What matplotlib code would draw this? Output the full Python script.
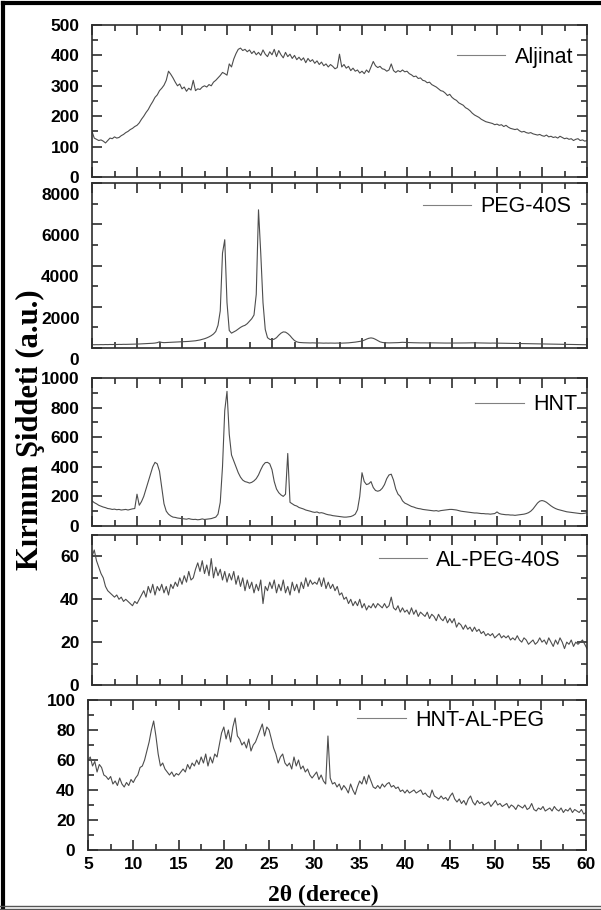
import numpy as np
import matplotlib
matplotlib.use("Agg")
import matplotlib.pyplot as plt
from matplotlib.ticker import MultipleLocator
from matplotlib.transforms import ScaledTranslation
from matplotlib.lines import Line2D

# 2theta grid (degrees), 0.25 step
two_theta = np.arange(5, 60.001, 0.25)

# intensities
aljinat = [150, 128, 124, 120, 122, 118, 112, 120, 128, 126, 132, 128, 130, 136, 140, 146, 150, 156, 160, 166,
           170, 178, 190, 200, 212, 222, 236, 248, 262, 270, 284, 292, 302, 318, 348, 338, 326, 312, 300, 306,
           290, 296, 282, 292, 286, 318, 284, 290, 288, 296, 300, 296, 304, 300, 312, 318, 326, 334, 344, 340,
           335, 372, 362, 388, 406, 420, 424, 416, 420, 412, 418, 406, 414, 402, 410, 400, 418, 404, 396, 412,
           402, 420, 396, 416, 402, 392, 410, 396, 404, 390, 400, 386, 394, 384, 392, 376, 390, 380, 386, 374,
           382, 370, 378, 366, 372, 362, 370, 364, 356, 360, 404, 362, 370, 358, 364, 350, 358, 348, 352, 342,
           348, 340, 352, 344, 362, 380, 366, 360, 364, 356, 354, 348, 352, 372, 350, 344, 350, 346, 352, 346,
           348, 340, 336, 330, 332, 324, 326, 318, 316, 310, 312, 304, 300, 296, 290, 284, 282, 276, 268, 272,
           262, 256, 252, 244, 240, 236, 228, 224, 218, 210, 204, 200, 196, 190, 186, 182, 180, 178, 176, 172,
           174, 170, 172, 166, 170, 164, 160, 158, 156, 158, 152, 148, 150, 146, 144, 146, 142, 140, 138, 140,
           136, 134, 138, 132, 134, 130, 132, 128, 134, 130, 126, 128, 124, 126, 120, 124, 126, 120, 122, 118,
           120]

peg40s = [160, 158, 162, 160, 165, 162, 168, 165, 170, 168, 172, 170, 175, 172, 178, 176, 180, 182, 185, 188,
          190, 195, 200, 205, 210, 215, 220, 230, 240, 260, 300, 270, 260, 265, 270, 275, 280, 285, 290, 300,
          300, 305, 310, 320, 330, 340, 350, 370, 390, 420, 450, 490, 540, 600, 680, 800, 1100, 1800, 4600, 5250,
          2200, 850, 720, 780, 840, 920, 1000, 1060, 1100, 1180, 1300, 1420, 1600, 2600, 6700, 4600, 2200, 900, 500, 420,
          400, 430, 500, 620, 720, 780, 770, 700, 600, 470, 360, 300, 270, 260, 255, 250, 250, 245, 250, 245,
          240, 245, 240, 235, 240, 236, 240, 238, 235, 240, 238, 236, 240, 245, 250, 260, 270, 285, 300, 320,
          340, 380, 430, 470, 490, 470, 420, 360, 300, 270, 255, 250, 248, 250, 252, 255, 260, 270, 275, 270,
          265, 262, 258, 255, 252, 250, 248, 250, 248, 245, 246, 250, 248, 246, 244, 245, 243, 240, 242, 240,
          240, 242, 240, 238, 240, 242, 245, 248, 250, 252, 250, 248, 245, 244, 242, 240, 238, 236, 240, 238,
          236, 234, 232, 230, 228, 226, 224, 222, 220, 218, 216, 214, 212, 210, 208, 206, 204, 202, 200, 198,
          196, 194, 192, 190, 188, 186, 184, 182, 180, 178, 176, 174, 172, 170, 168, 166, 165, 163, 162, 160,
          158]

hnt = [170, 158, 150, 140, 134, 128, 124, 118, 116, 112, 114, 110, 112, 108, 110, 112, 108, 112, 116, 118,
       215, 140, 165, 200, 250, 300, 350, 400, 430, 420, 370, 260, 150, 100, 80, 68, 60, 58, 54, 52,
       50, 48, 46, 50, 46, 44, 45, 42, 44, 48, 44, 46, 48, 50, 55, 60, 80, 160, 400, 780,
       910, 620, 480, 440, 400, 360, 330, 310, 300, 296, 290, 295, 305, 320, 345, 380, 410, 428, 430, 420,
       380, 300, 250, 225, 210, 200, 215, 490, 160, 150, 140, 135, 125, 120, 115, 108, 104, 100, 95, 92,
       95, 88, 90, 86, 80, 76, 74, 70, 68, 66, 64, 62, 60, 60, 62, 64, 70, 80, 110, 200,
       360, 300, 280, 285, 300, 260, 240, 235, 240, 255, 280, 320, 345, 350, 310, 250, 215, 200, 170, 155,
       148, 140, 132, 128, 122, 118, 116, 112, 110, 108, 106, 104, 102, 104, 100, 104, 106, 108, 110, 112,
       112, 110, 108, 104, 100, 98, 96, 94, 92, 90, 88, 88, 86, 84, 84, 82, 82, 80, 82, 84,
       95, 84, 80, 78, 76, 76, 74, 74, 72, 74, 76, 78, 80, 84, 90, 100, 115, 135, 155, 168,
       172, 168, 160, 148, 136, 126, 118, 112, 108, 104, 100, 96, 94, 92, 90, 88, 86, 84, 84, 86,
       90]

al_peg40s = [60, 63, 58, 55, 52, 50, 46, 44, 43, 42, 41, 42, 40, 41, 39, 40, 39, 38, 37, 39,
             38, 40, 42, 44, 41, 46, 43, 47, 42, 46, 44, 47, 43, 46, 42, 47, 45, 48, 46, 50,
             47, 51, 48, 53, 49, 50, 54, 57, 53, 58, 52, 56, 51, 59, 50, 55, 51, 54, 49, 53,
             48, 52, 49, 53, 47, 51, 46, 50, 44, 49, 45, 48, 43, 47, 44, 49, 38, 46, 44, 48,
             45, 49, 43, 47, 44, 49, 43, 46, 42, 48, 44, 47, 43, 48, 45, 50, 46, 49, 47, 48,
             47, 50, 46, 50, 45, 48, 45, 47, 44, 46, 42, 43, 40, 41, 38, 40, 37, 39, 37, 40,
             36, 38, 35, 37, 36, 38, 36, 38, 37, 36, 38, 36, 37, 41, 36, 35, 37, 34, 36, 34,
             35, 33, 36, 33, 35, 32, 34, 33, 32, 34, 31, 33, 32, 30, 33, 31, 30, 32, 29, 31,
             29, 31, 27, 29, 28, 26, 28, 26, 27, 25, 27, 25, 26, 24, 25, 23, 24, 23, 24, 22,
             23, 24, 22, 23, 22, 23, 21, 22, 21, 23, 21, 20, 22, 21, 19, 20, 21, 19, 20, 22,
             20, 21, 19, 22, 20, 18, 21, 19, 22, 20, 17, 20, 19, 21, 18, 20, 19, 20, 21, 19,
             17]

hnt_al_peg = [60, 62, 56, 59, 52, 57, 55, 50, 49, 47, 49, 44, 46, 43, 48, 44, 42, 45, 43, 47,
              45, 48, 50, 55, 56, 60, 66, 72, 80, 86, 76, 64, 56, 58, 54, 52, 50, 52, 49, 51,
              50, 52, 54, 52, 57, 54, 58, 56, 60, 57, 62, 58, 64, 56, 62, 58, 64, 62, 70, 78,
              82, 74, 80, 72, 82, 88, 76, 74, 70, 72, 68, 74, 66, 70, 72, 76, 80, 84, 76, 82,
              80, 74, 68, 64, 58, 62, 64, 58, 56, 58, 54, 62, 56, 60, 54, 56, 52, 54, 50, 48,
              50, 52, 47, 50, 46, 44, 76, 48, 44, 45, 42, 44, 40, 43, 41, 38, 44, 40, 37, 42,
              46, 44, 49, 44, 50, 46, 42, 41, 43, 41, 44, 42, 44, 45, 42, 43, 41, 42, 39, 40,
              38, 40, 38, 39, 40, 38, 39, 40, 37, 38, 36, 35, 40, 36, 35, 34, 36, 34, 35, 33,
              36, 38, 34, 32, 34, 31, 33, 30, 34, 36, 32, 30, 33, 31, 32, 30, 31, 32, 29, 31,
              33, 30, 31, 29, 30, 31, 28, 30, 29, 27, 30, 29, 28, 30, 27, 28, 31, 27, 26, 28,
              27, 29, 26, 27, 28, 26, 29, 27, 26, 28, 25, 27, 26, 28, 25, 27, 26, 25, 27, 24,
              25]

names = ["Aljinat", "PEG-40S", "HNT", "AL-PEG-40S", "HNT-AL-PEG"]
series = [aljinat, peg40s, hnt, al_peg40s, hnt_al_peg]
y_tops = [500, 8000, 1000, 70, 100]
y_major = [100, 2000, 200, 20, 20]
x_ticks = [5, 10, 15, 20, 25, 30, 35, 40, 45, 50, 55, 60]

W, H = 601, 910
fig = plt.figure(figsize=(W / 100, H / 100), dpi=100)

# panel boxes in pixels: (left, top, right, bottom)
boxes = [(92, 25, 587, 177), (92, 183, 587, 348), (92, 378, 587, 526),
         (92, 535, 587, 685), (88, 700, 586, 850)]
# legend anchors in pixels: (right end of text, vertical centre)
leg_pos = [(573, 57), (571, 207), (577, 405), (561, 560), (544, 720)]

tick_font = dict(family="Liberation Sans", weight="bold", size=12.5)
dark = "#2e2e2e"

axes = []
for i, (l, t, r, b) in enumerate(boxes):
    ax = fig.add_axes([l / W, 1 - b / H, (r - l) / W, (b - t) / H])
    ax.plot(two_theta, series[i], color="#4d4d4d", lw=0.8)
    ax.set_xlim(5, 60)
    ax.set_ylim(0, y_tops[i])
    ax.xaxis.set_major_locator(MultipleLocator(5))
    ax.xaxis.set_minor_locator(MultipleLocator(2.5))
    ax.yaxis.set_minor_locator(MultipleLocator(y_major[i] / 2))
    ax.tick_params(which="both", direction="in", top=True, right=True, width=1.2, color=dark)
    ax.tick_params(which="major", length=7)
    ax.tick_params(which="minor", length=4)
    for sp in ax.spines.values():
        sp.set_linewidth(1.2)
        sp.set_color(dark)
    yt = np.arange(0, y_tops[i] + 1, y_major[i])
    ax.set_yticks(yt)
    ax.set_yticklabels([str(int(v)) for v in yt], **tick_font)
    if i == 4:
        ax.set_xticks(x_ticks)
        ax.set_xticklabels([str(v) for v in x_ticks], **tick_font)
        ax.tick_params(axis="x", pad=5)
    else:
        ax.set_xticklabels([])
    ax.tick_params(axis="y", pad=9)
    handle = Line2D([], [], color="#808080", lw=0.8)
    ax.legend([handle], [names[i]], loc="center right",
              bbox_to_anchor=(leg_pos[i][0] / W, 1 - leg_pos[i][1] / H),
              bbox_transform=fig.transFigure, frameon=False,
              handlelength=2.25, handletextpad=0.42, borderaxespad=0, borderpad=0,
              prop=dict(family="Liberation Sans", size=15.5))
    axes.append(ax)

# PEG-40S tick labels sit a little low in the original
for lab in axes[1].get_yticklabels():
    lab.set_transform(lab.get_transform() + ScaledTranslation(0, -0.11, fig.dpi_scale_trans))

fig.text(30 / W, 1 - 430 / H, "Kırınım Şiddeti (a.u.)", rotation=90, ha="center", va="center",
         family="Liberation Serif", weight="bold", size=22)
fig.text(323 / W, 1 - 895 / H, "2θ (derece)", ha="center", va="center",
         family="Liberation Serif", weight="bold", size=17)

# outer frame: heavy black top and left, thin double line at the bottom
fig.add_artist(Line2D([3 / W, 3 / W], [0, 1 - 3 / H], transform=fig.transFigure, color="black", lw=3))
fig.add_artist(Line2D([3 / W, 1], [1 - 3 / H, 1 - 3 / H], transform=fig.transFigure, color="black", lw=3))
fig.add_artist(Line2D([0, 1], [4 / H, 4 / H], transform=fig.transFigure, color="#555555", lw=1))
fig.add_artist(Line2D([0, 1], [1 / H, 1 / H], transform=fig.transFigure, color="#555555", lw=1))

fig.savefig("out.png", dpi=100)
